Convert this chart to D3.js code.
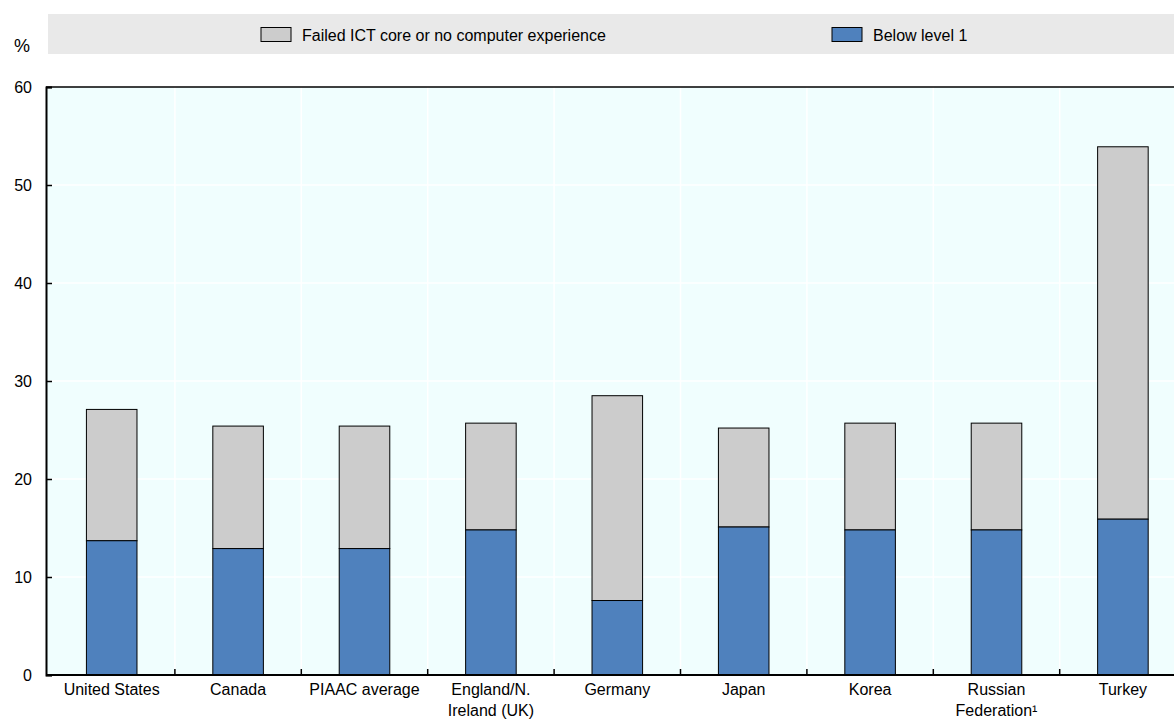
<!DOCTYPE html>
<html><head><meta charset="utf-8">
<script src="https://cdn.jsdelivr.net/npm/d3@7"></script>
<style>body{margin:0;background:#fff;}svg{display:block;font-family:"Liberation Sans",Arial,sans-serif;}</style>
</head><body><svg id="c" width="1174" height="722"></svg>
<script>
const categories = ["United States","Canada","PIAAC average","England/N.\nIreland (UK)","Germany","Japan","Korea","Russian\nFederation¹","Turkey"];
const belowLevel1 = [13.7, 12.9, 12.9, 14.8, 7.6, 15.1, 14.8, 14.8, 15.9];
const failedICT = [13.4, 12.5, 12.5, 10.9, 20.9, 10.1, 10.9, 10.9, 38.0];
const yTicks = [0, 10, 20, 30, 40, 50, 60];
const seriesNames = ["Failed ICT core or no computer experience", "Below level 1"];
const colors = {failed: "#CCCCCC", below: "#4F81BD"};

const svg = d3.select("#c");
const L = 46, T = 87, B = 675, stepW = 126.4, R = L + 2.5 + stepW * categories.length;
const x = d3.scaleBand().domain(categories).range([L + 2.5, R]).paddingInner(0.6).paddingOuter(0.3);
const y = d3.scaleLinear().domain([0, 60]).range([B, T]);
const FS = 16;

// legend band
svg.append("rect").attr("x", 48).attr("y", 14).attr("width", 1126).attr("height", 40).attr("fill", "#E9E9E9");
const leg = [{name: seriesNames[0], c: colors.failed, x: 261}, {name: seriesNames[1], c: colors.below, x: 832}];
leg.forEach(d => {
  svg.append("rect").attr("x", d.x).attr("y", 27.5).attr("width", 30).attr("height", 14).attr("fill", d.c).attr("stroke", "#000").attr("stroke-width", 1);
  svg.append("text").attr("x", d.x + 41).attr("y", 40.5).attr("font-size", FS).attr("fill", "#000").text(d.name);
});
svg.append("text").attr("x", 14).attr("y", 52).attr("font-size", 18).text("%");

// plot background
svg.append("rect").attr("x", L).attr("y", T).attr("width", 1174 - L).attr("height", B - T).attr("fill", "#F0FEFE");
// gridlines
svg.append("g").selectAll("line").data(yTicks.filter(v => v > 0 && v < 60)).join("line")
  .attr("x1", L).attr("x2", 1174).attr("y1", d => y(d)).attr("y2", d => y(d)).attr("stroke", "#fff").attr("stroke-width", 1.5);
const bounds = categories.map((c, i) => x(c) - x.step() * 0.3).slice(1);
svg.append("g").selectAll("line").data(bounds).join("line")
  .attr("x1", d => d).attr("x2", d => d).attr("y1", T).attr("y2", B).attr("stroke", "#fff").attr("stroke-width", 1.5);

// bars
const g = svg.append("g");
categories.forEach((c, i) => {
  g.append("rect").attr("x", x(c)).attr("width", x.bandwidth()).attr("y", y(belowLevel1[i] + failedICT[i])).attr("height", y(belowLevel1[i]) - y(belowLevel1[i] + failedICT[i]))
    .attr("fill", colors.failed).attr("stroke", "#000").attr("stroke-width", 1);
  g.append("rect").attr("x", x(c)).attr("width", x.bandwidth()).attr("y", y(belowLevel1[i])).attr("height", y(0) - y(belowLevel1[i]))
    .attr("fill", colors.below).attr("stroke", "#000").attr("stroke-width", 1);
});

// top border
svg.append("line").attr("x1", L).attr("x2", 1174).attr("y1", T).attr("y2", T).attr("stroke", "#000").attr("stroke-width", 1.5);

// y axis
const ya = svg.append("g").attr("transform", `translate(${L},0)`).call(d3.axisLeft(y).tickValues(yTicks).tickSize(-6).tickPadding(14));
ya.select(".domain").attr("stroke", "#000").attr("stroke-width", 2);
ya.selectAll(".tick line").attr("stroke", "#000").attr("stroke-width", 1.5);
ya.selectAll("text").attr("font-size", FS).attr("fill", "#000").attr("font-family", "Liberation Sans, Arial, sans-serif");

// x axis
svg.append("line").attr("x1", L).attr("x2", 1174).attr("y1", B).attr("y2", B).attr("stroke", "#000").attr("stroke-width", 2);
svg.append("g").selectAll("line").data(bounds).join("line")
  .attr("x1", d => d).attr("x2", d => d).attr("y1", B).attr("y2", B - 6).attr("stroke", "#000").attr("stroke-width", 1.5);
const xl = svg.append("g");
categories.forEach(c => {
  const t = xl.append("text").attr("x", x(c) + x.bandwidth() / 2).attr("y", B + 20).attr("text-anchor", "middle").attr("font-size", FS).attr("fill", "#000");
  c.split("\n").forEach((line, j) => t.append("tspan").attr("x", x(c) + x.bandwidth() / 2).attr("dy", j ? 21 : 0).text(line));
});
</script></body></html>
